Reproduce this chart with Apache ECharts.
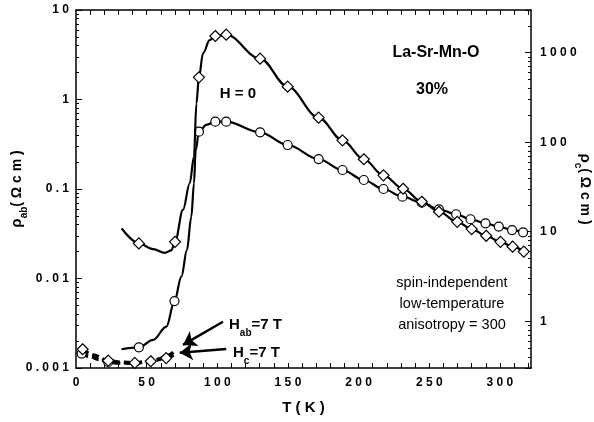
<!DOCTYPE html>
<html>
<head>
<meta charset="utf-8">
<script src="https://cdn.jsdelivr.net/npm/echarts@6/dist/echarts.min.js"></script>
<style>
html, body { margin: 0; background: #fff; }
#chart { width: 594px; height: 422px; }
</style>
</head>
<body>
<div id="chart"></div>
<script>
// rho_ab, H = 0  (left axis, ohm cm); mark = 1 where a circle is drawn
const abT    = [32.2, 44.5, 54.6, 64, 69.7, 74.6, 78.5, 81.6, 83.5, 84.7, 87, 92.2, 98.6, 106.3, 130.3, 149.8, 171.7, 188.6, 203.7, 217.6, 231, 244.7, 256.9, 269, 279.2, 289.8, 299.2, 308.6, 316.4];
const abRho  = [0.00162, 0.0017, 0.00206, 0.0029, 0.0056, 0.0105, 0.0208, 0.049, 0.116, 0.27, 0.437, 0.52, 0.565, 0.565, 0.43, 0.31, 0.216, 0.163, 0.126, 0.100, 0.082, 0.0703, 0.0593, 0.0522, 0.0459, 0.0414, 0.038, 0.0348, 0.0328];
const abMark = [0, 1, 0, 0, 1, 0, 0, 0, 0, 0, 1, 0, 1, 1, 1, 1, 1, 1, 1, 1, 1, 1, 1, 1, 1, 1, 1, 1, 1];

// rho_c, H = 0  (right axis, ohm cm); mark = 1 where a diamond is drawn
const cT    = [32.3, 44.5, 54.6, 62.8, 67.5, 70.1, 75.7, 80.5, 83.5, 85.2, 87, 89.9, 94.6, 98.6, 106.3, 130.3, 149.8, 171.7, 188.6, 203.7, 217.6, 231.5, 244.7, 256.9, 269.8, 280, 290.3, 300.4, 309, 316.9];
const cRho  = [10.9, 7.4, 6.4, 5.8, 6.2, 7.7, 17.5, 34.8, 69, 270, 531, 984, 1380, 1536, 1590, 858, 417, 188, 105, 64.5, 42.6, 30.2, 21.6, 16.7, 12.9, 10.7, 9.0, 7.7, 6.8, 6.0];
const cMark = [0, 1, 0, 0, 0, 1, 0, 0, 0, 0, 1, 0, 0, 1, 1, 1, 1, 1, 1, 1, 1, 1, 1, 1, 1, 1, 1, 1, 1, 1];

// H_ab = 7 T (left axis)
const habT    = [4, 10, 16, 22.8, 30, 41, 50, 58, 64, 69];
const habRho  = [0.00145, 0.00134, 0.00125, 0.00117, 0.00114, 0.00113, 0.00117, 0.00125, 0.00136, 0.0015];
const habMark = [1, 0, 0, 1, 0, 0, 0, 0, 0, 0];

// H_c = 7 T (right axis)
const hcT    = [4.7, 12, 22.8, 32, 41.6, 52.9, 63.8, 69];
const hcRho  = [0.486, 0.42, 0.363, 0.348, 0.342, 0.357, 0.387, 0.42];
const hcMark = [1, 0, 1, 0, 1, 1, 1, 0];

// tick labels, indexed by decade
const abTickLabels = ['0.001', '0.01', '0.1', '1', '10'];   // 1e-3 .. 1e1
const cTickLabels  = ['1', '10', '100', '1000'];             // 1e0 .. 1e3

// arrows from the field labels to the 7 T curves, [T, rho_ab]
const arrowHab = [[104, 0.00329], [75.7, 0.00181]];
const arrowHc  = [[106.3, 0.00163], [73.4, 0.00148]];

const FONT = 'Liberation Sans';

function spaced(s) { return s.split('').join(' '); }

function decadeLabel(labels, offset) {
    return function (v) {
        const e = Math.log10(v);
        const r = Math.round(e);
        if (Math.abs(e - r) > 1e-6) return '';
        const s = labels[r + offset];
        return s ? spaced(s) : '';
    };
}

function pts(xs, ys, marks, sym) {
    return xs.map((x, i) => ({ value: [x, ys[i]], symbol: marks[i] ? sym : 'none' }));
}

// minor tick positions
const tMinor = [];
for (let t = 10; t <= 320; t += 10) tMinor.push(t);
function logMinor(lo, hi) {
    const out = [];
    for (let e = Math.floor(lo) - 1; e <= Math.ceil(hi); e++) {
        for (let m = 2; m <= 9; m++) {
            const v = Math.log10(m) + e;
            if (v > lo && v < hi) out.push(v);
        }
    }
    return out;
}
const cLo = Math.log10(0.3), cHi = Math.log10(3000);

const labelStyle = { color: '#000', fontFamily: FONT, fontWeight: 'bold', fontSize: 12 };
const black = { color: '#000' };
const frameLine = { onZero: false, lineStyle: { color: '#000', width: 1.5 } };
const nameRich = {
    r: { fontFamily: FONT, fontWeight: 'bold', fontSize: 15, lineHeight: 24, color: '#000' },
    s: { fontFamily: FONT, fontWeight: 'bold', fontSize: 10, lineHeight: 10, verticalAlign: 'bottom', color: '#000' },
    n: { fontFamily: FONT, fontWeight: 'bold', fontSize: 14, lineHeight: 24, color: '#000' }
};

const chart = echarts.init(document.getElementById('chart'), null, { renderer: 'canvas' });

const option = {
    backgroundColor: '#fff',
    animation: false,
    grid: { left: 76, right: 63, top: 10, bottom: 54, containLabel: false, outerBoundsMode: 'none' },
    xAxis: [{
        type: 'value', position: 'bottom', min: 0, max: 322, interval: 50,
        axisLine: frameLine,
        axisTick: { inside: true, length: 5, customValues: tMinor, lineStyle: black },
        axisLabel: Object.assign({ margin: 9, showMaxLabel: false, formatter: v => spaced(String(v)) }, labelStyle),
        splitLine: { show: false },
        name: 'T ( K )', nameLocation: 'middle', nameGap: 32, nameMoveOverlap: false,
        nameTextStyle: { color: '#000', fontFamily: FONT, fontWeight: 'bold', fontSize: 15 }
    }, {
        type: 'value', position: 'top', min: 0, max: 322, interval: 50,
        axisLine: frameLine,
        axisTick: { inside: true, length: 5, customValues: tMinor, lineStyle: black },
        axisLabel: { show: false },
        splitLine: { show: false }
    }],
    yAxis: [{
        type: 'log', logBase: 10, position: 'left', min: 0.001, max: 10,
        axisLine: frameLine,
        axisTick: { inside: true, length: 6, lineStyle: black },
        axisLabel: Object.assign({ margin: 7, formatter: decadeLabel(abTickLabels, 3) }, labelStyle),
        splitLine: { show: false },
        name: '{r|ρ}{s|ab}{n|( Ω c m )}', nameLocation: 'middle', nameGap: 47, nameRotate: 90,
        nameMoveOverlap: false,
        nameTextStyle: { rich: nameRich }
    }, {
        type: 'log', logBase: 10, position: 'right', min: 0.3, max: 3000,
        axisLine: frameLine,
        axisTick: { inside: true, length: 6, lineStyle: black },
        axisLabel: Object.assign({ margin: 9, formatter: decadeLabel(cTickLabels, 0) }, labelStyle),
        splitLine: { show: false },
        name: '{r|ρ}{s|c}{n|( Ω c m )}', nameLocation: 'middle', nameGap: 42, nameRotate: -90,
        nameMoveOverlap: false,
        nameTextStyle: { rich: nameRich }
    }, {
        // minor ticks, left (log10 units)
        type: 'value', position: 'left', min: -3, max: 1,
        axisLine: { show: false, onZero: false },
        axisTick: { inside: true, length: 3, customValues: logMinor(-3, 1), lineStyle: black },
        axisLabel: { show: false },
        splitLine: { show: false }
    }, {
        // minor ticks, right (log10 units)
        type: 'value', position: 'right', min: cLo, max: cHi,
        axisLine: { show: false, onZero: false },
        axisTick: { inside: true, length: 3, customValues: logMinor(cLo, cHi), lineStyle: black },
        axisLabel: { show: false },
        splitLine: { show: false }
    }],
    series: [{
        name: 'rho_ab H=0', type: 'line', xAxisIndex: 0, yAxisIndex: 0,
        smooth: 0.35, smoothMonotone: 'x',
        data: pts(abT, abRho, abMark, 'circle'),
        symbolSize: 9,
        lineStyle: { color: '#000', width: 2.2 },
        itemStyle: { color: '#fff', borderColor: '#000', borderWidth: 1.2 },
        z: 3
    }, {
        name: 'rho_c H=0', type: 'line', xAxisIndex: 0, yAxisIndex: 1,
        smooth: 0.35, smoothMonotone: 'x',
        data: pts(cT, cRho, cMark, 'diamond'),
        symbolSize: 11,
        lineStyle: { color: '#000', width: 2.2 },
        itemStyle: { color: '#fff', borderColor: '#000', borderWidth: 1.2 },
        z: 4
    }, {
        name: 'rho_ab H=7T', type: 'line', xAxisIndex: 0, yAxisIndex: 0,
        smooth: 0.35, smoothMonotone: 'x',
        data: pts(habT, habRho, habMark, 'circle'),
        symbolSize: 9,
        lineStyle: { color: '#000', width: 3.5, type: [7, 4] },
        itemStyle: { color: '#fff', borderColor: '#000', borderWidth: 1.2 },
        markLine: {
            silent: true, symbol: ['none', 'arrow'], symbolSize: 13,
            label: { show: false },
            lineStyle: { color: '#000', width: 2.5, type: 'solid' },
            data: [
                [{ coord: arrowHab[0] }, { coord: arrowHab[1] }],
                [{ coord: arrowHc[0] }, { coord: arrowHc[1] }]
            ]
        },
        z: 3
    }, {
        name: 'rho_c H=7T', type: 'line', xAxisIndex: 0, yAxisIndex: 1,
        smooth: 0.35, smoothMonotone: 'x',
        data: pts(hcT, hcRho, hcMark, 'diamond'),
        symbolSize: 11,
        lineStyle: { color: '#000', width: 3.5, type: [7, 4] },
        itemStyle: { color: '#fff', borderColor: '#000', borderWidth: 1.2 },
        z: 4
    }],
    graphic: [{
        type: 'text', x: 436, y: 53,
        style: { text: 'La-Sr-Mn-O', fontFamily: FONT, fontWeight: 'bold', fontSize: 16, fill: '#000',
                 align: 'center', verticalAlign: 'middle', textAlign: 'center', textVerticalAlign: 'middle' }
    }, {
        type: 'text', x: 432, y: 90,
        style: { text: '30%', fontFamily: FONT, fontWeight: 'bold', fontSize: 16, fill: '#000',
                 align: 'center', verticalAlign: 'middle', textAlign: 'center', textVerticalAlign: 'middle' }
    }, {
        type: 'text', x: 238, y: 94,
        style: { text: 'H = 0', fontFamily: FONT, fontWeight: 'bold', fontSize: 15, fill: '#000',
                 align: 'center', verticalAlign: 'middle', textAlign: 'center', textVerticalAlign: 'middle' }
    }, {
        type: 'text', x: 452, y: 304,
        style: { text: 'spin-independent\nlow-temperature\nanisotropy = 300', fontFamily: FONT, fontSize: 14.5,
                 lineHeight: 21, fill: '#000',
                 align: 'center', verticalAlign: 'middle', textAlign: 'center', textVerticalAlign: 'middle' }
    }, {
        type: 'text', x: 229, y: 325,
        style: {
            text: '{h|H}{s|ab}{h|=7 T}', fill: '#000',
            align: 'left', verticalAlign: 'middle', textAlign: 'left', textVerticalAlign: 'middle',
            rich: {
                h: { fontFamily: FONT, fontWeight: 'bold', fontSize: 15, lineHeight: 26 },
                s: { fontFamily: FONT, fontWeight: 'bold', fontSize: 10, lineHeight: 10, verticalAlign: 'bottom' }
            }
        }
    }, {
        type: 'text', x: 233, y: 353,
        style: {
            text: '{h|H}{s|c}{h|=7 T}', fill: '#000',
            align: 'left', verticalAlign: 'middle', textAlign: 'left', textVerticalAlign: 'middle',
            rich: {
                h: { fontFamily: FONT, fontWeight: 'bold', fontSize: 15, lineHeight: 26 },
                s: { fontFamily: FONT, fontWeight: 'bold', fontSize: 10, lineHeight: 10, verticalAlign: 'bottom' }
            }
        }
    }]
};

chart.setOption(option);
window.addEventListener('resize', function () { chart.resize(); });
</script>
</body>
</html>
